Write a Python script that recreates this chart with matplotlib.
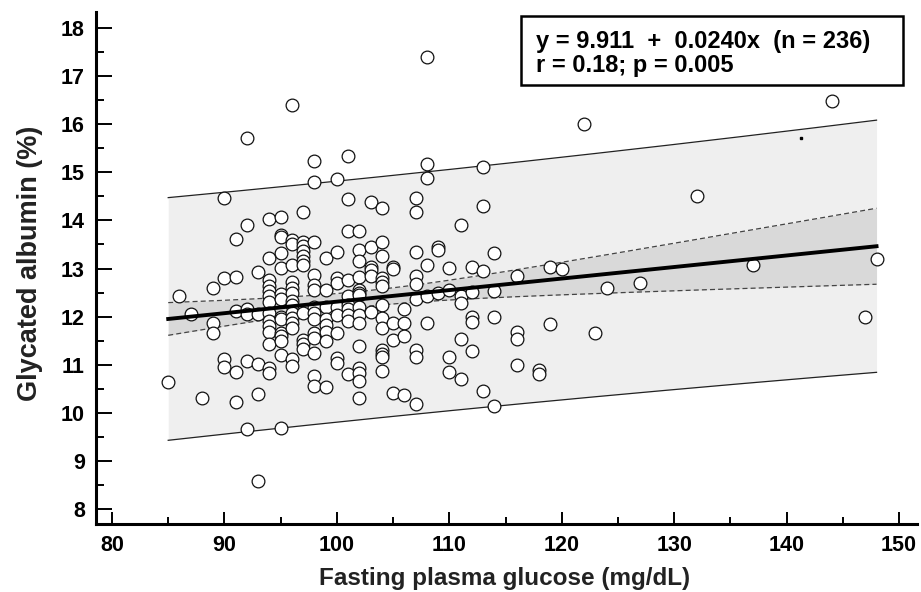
import numpy as np
import matplotlib
matplotlib.use("Agg")
import matplotlib.pyplot as plt
from matplotlib.patches import Rectangle
from matplotlib.ticker import MultipleLocator

plt.rcParams['font.family'] = ['Liberation Sans', 'DejaVu Sans']

# ---- data: fasting plasma glucose (x) -> glycated albumin values (y) ----
columns = {
    85: [10.64],
    86: [12.42],
    87: [12.05],
    88: [10.30],
    89: [12.60, 11.87, 11.66],
    90: [14.46, 12.80, 11.11, 10.95],
    91: [13.61, 12.82, 12.12, 10.84, 10.22],
    92: [15.72, 13.91, 12.15, 12.06, 11.07, 9.67],
    93: [12.92, 12.06, 11.02, 10.40, 8.58],
    94: [14.02, 13.22, 12.77, 12.63, 12.53, 12.42, 12.30, 12.08, 11.90, 11.80,
         11.69, 11.42, 10.93, 10.83],
    95: [14.07, 13.70, 13.65, 13.32, 13.01, 12.46, 12.37, 12.00, 11.94, 11.66,
         11.59, 11.49, 11.21, 9.69],
    96: [16.40, 13.60, 13.50, 13.07, 12.72, 12.60, 12.49, 12.32, 12.25, 12.08,
         11.97, 11.87, 11.77, 11.11, 10.98],
    97: [14.17, 13.56, 13.46, 13.36, 13.25, 13.15, 13.08, 12.08, 11.52, 11.42, 11.32],
    98: [15.23, 14.80, 13.56, 12.87, 12.66, 12.56, 12.21, 12.08, 11.96, 11.66,
         11.56, 11.25, 10.77, 10.55],
    99: [13.22, 12.56, 12.21, 11.94, 11.83, 11.69, 11.49, 10.53],
    100: [14.86, 13.34, 12.80, 12.70, 12.21, 12.03, 11.66, 11.14, 11.04],
    101: [15.34, 14.44, 13.77, 12.77, 12.42, 12.25, 12.15, 12.04, 11.90, 10.80],
    102: [13.78, 13.39, 13.15, 12.82, 12.56, 12.49, 12.44, 12.21, 12.04, 11.87,
          11.38, 10.93, 10.82, 10.66, 10.30],
    103: [14.39, 13.45, 13.04, 12.96, 12.85, 12.10],
    104: [14.25, 13.56, 13.27, 12.80, 12.71, 12.63, 12.25, 11.97, 11.77, 11.31,
          11.23, 11.16, 10.86],
    105: [13.04, 12.99, 11.87, 11.52, 10.41],
    106: [12.16, 11.87, 11.59, 10.38],
    107: [14.47, 14.17, 13.34, 12.84, 12.68, 12.37, 11.31, 11.16, 10.19],
    108: [17.39, 15.18, 14.89, 13.08, 12.42, 11.87],
    109: [13.45, 13.39, 12.49],
    110: [13.01, 12.56, 11.16, 10.84],
    111: [13.91, 12.42, 12.28, 11.54, 10.71],
    112: [13.04, 12.51, 11.99, 11.88, 11.28],
    113: [15.11, 14.31, 12.94, 10.46],
    114: [13.32, 12.53, 11.99, 10.14],
    116: [12.84, 11.69, 11.54, 11.00],
    118: [10.90, 10.81],
    119: [13.04, 11.85],
    120: [13.00],
    122: [16.01],
    123: [11.65],
    124: [12.60],
    127: [12.70],
    132: [14.50],
    137: [13.08],
    144: [16.49],
    147: [11.99],
    148: [13.20],
}
fpg = np.array([x for x, ys in columns.items() for _ in ys], dtype=float)
ga = np.array([y for ys in columns.values() for y in ys], dtype=float)

# regression as reported on the chart
intercept = 9.911
slope = 0.0240
n_reported = 236
r_text = "r = 0.18; p = 0.005"

# band parameters
x_mean = 102.55
sxx = 21600.0
t_times_s = 2.50
x_range = (85, 148)

stray_dot = (141.25, 15.72)

# ---- figure ----
W, H = 921, 592
fig = plt.figure(figsize=(W / 100, H / 100), dpi=100)
ax = fig.add_axes([96 / W, 1 - 524 / H, (917 - 96) / W, (524 - 11.7) / H])

xs = np.linspace(x_range[0], x_range[1], 300)
yfit = intercept + slope * xs
ci = t_times_s * np.sqrt(1 / n_reported + (xs - x_mean) ** 2 / sxx)
pi = t_times_s * np.sqrt(1 + 1 / n_reported + (xs - x_mean) ** 2 / sxx)

ax.fill_between(xs, yfit - pi, yfit + pi, color='#efefef', lw=0, zorder=1)
ax.fill_between(xs, yfit - ci, yfit + ci, color='#d9d9d9', lw=0, zorder=1.5)
ax.plot(xs, yfit + pi, color='#222222', lw=0.9, zorder=2)
ax.plot(xs, yfit - pi, color='#222222', lw=0.9, zorder=2)
ax.plot(xs, yfit + ci, color='#444444', lw=0.9, ls=(0, (4, 2.5)), zorder=2)
ax.plot(xs, yfit - ci, color='#444444', lw=0.9, ls=(0, (4, 2.5)), zorder=2)
ax.plot(xs, yfit, color='black', lw=2.8, zorder=4)

ax.scatter(fpg, ga, s=84, facecolor='white', edgecolor='#111111',
           linewidth=0.9, zorder=3)
ax.plot([stray_dot[0]], [stray_dot[1]], marker='s', ms=1.5, color='black', zorder=3)

ax.set_xlim(78.577, 151.6)
ax.set_ylim(7.6875, 18.34)
ax.xaxis.set_minor_locator(MultipleLocator(5))
ax.yaxis.set_minor_locator(MultipleLocator(0.5))
ax.set_xticks(np.arange(80, 151, 10))
ax.set_yticks(np.arange(8, 19, 1))

for side in ['top', 'right']:
    ax.spines[side].set_visible(False)
for side in ['left', 'bottom']:
    ax.spines[side].set_linewidth(2.2)

ax.tick_params(axis='x', which='major', direction='in', length=8.8, width=1.4,
               pad=8, labelsize=15.5)
ax.tick_params(axis='x', which='minor', direction='in', length=5, width=1.4)
ax.tick_params(axis='y', which='major', direction='in', length=11.5, width=1.4,
               pad=8, labelsize=15.5)
ax.tick_params(axis='y', which='minor', direction='in', length=5.5, width=1.4)
for lab in ax.get_xticklabels() + ax.get_yticklabels():
    lab.set_fontweight('bold')

fig.text(505 / W, 1 - 578 / H, "Fasting plasma glucose (mg/dL)", ha='center',
         va='center', fontsize=17.5, fontweight='bold', color='#222222')
fig.text(30 / W, 1 - 263 / H, "Glycated albumin (%)", ha='center', va='center',
         rotation=90, fontsize=19.5, fontweight='bold', color='#222222')

# statistics box
box = Rectangle((520.7 / W, 1 - 85 / H), (902.7 - 520.7) / W, (85 - 16) / H,
                transform=fig.transFigure, facecolor='white', edgecolor='black',
                linewidth=1.8, zorder=10)
fig.patches.append(box)
eq_text = f"y = {intercept:.3f}  +  {slope:.4f}x  (n = {n_reported})"
fig.text(536 / W, 1 - 41.7 / H, eq_text, ha='left', va='center', fontsize=17,
         fontweight='bold', zorder=11)
fig.text(536 / W, 1 - 65.5 / H, r_text, ha='left', va='center', fontsize=17,
         fontweight='bold', zorder=11)

fig.savefig("out.png", dpi=100)
